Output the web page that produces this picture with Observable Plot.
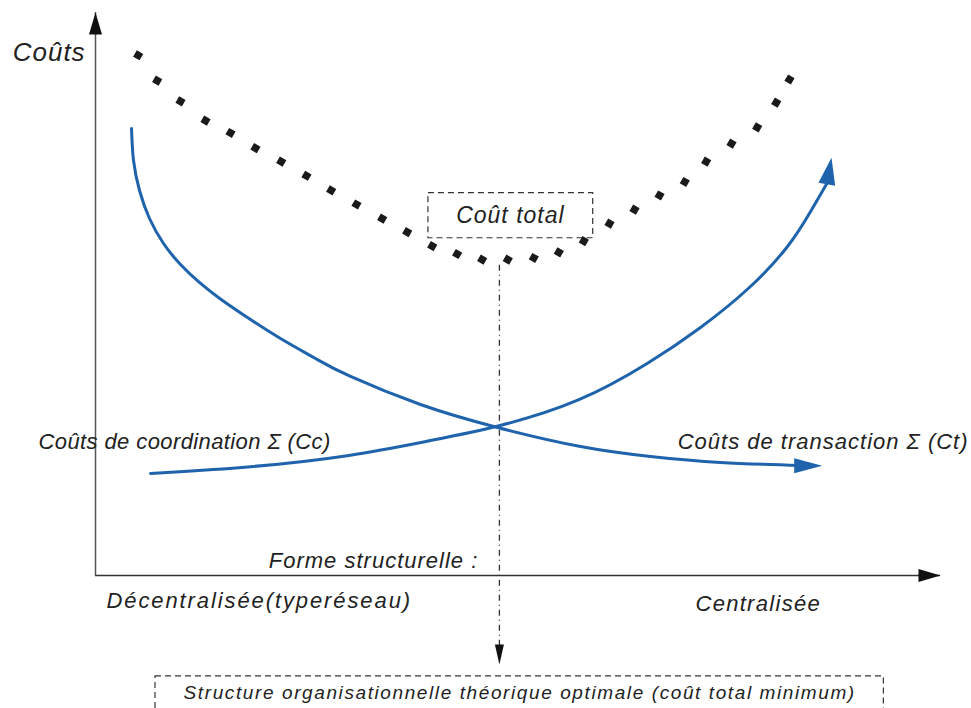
<!DOCTYPE html>
<html><head><meta charset="utf-8">
<script src="https://cdn.jsdelivr.net/npm/d3@7"></script>
<script src="https://cdn.jsdelivr.net/npm/@observablehq/plot@0.6"></script>
<style>
body{margin:0;background:#fff;}
#chart svg{display:block;}
</style>
</head><body><div id="chart"></div>
<script>
// Forme structurelle (0 = décentralisée, 100 = centralisée) ; coûts (0-100)
const totalX = [5.05,7.30,10.06,13.02,15.98,18.93,21.98,24.97,27.89,30.89,33.93,36.89,39.85,42.80,45.76,48.79,51.87,54.83,57.79,60.83,63.79,66.75,69.74,72.27,75.27,78.31,80.56,82.13];
const totalY = [92.4,87.9,84.2,80.8,78.6,75.9,73.5,71.0,68.4,65.9,63.4,61.0,58.5,57.1,56.1,56.1,56.4,57.4,59.4,62.5,65.0,67.5,69.9,73.5,76.7,79.6,84.0,88.1];

const coordX = [6.51,18.34,30.18,39.64,47.57,57.40,65.68,71.60,77.51,82.25,84.85,86.75];
const coordY = [18.12,19.18,21.14,23.98,26.29,30.73,37.83,43.87,50.98,58.61,65.19,70.16];
const coordTip = [87.1,74.2];

const transX = [4.26,4.50,5.21,6.39,8.05,10.06,12.43,15.03,18.34,21.89,26.04,30.18,38.46,47.57,57.40,65.68,73.96,83.43];
const transY = [79.40,73.71,68.38,63.41,58.97,55.24,51.87,48.85,45.47,42.10,38.54,35.35,30.37,26.29,22.91,21.14,20.07,19.54];
const transTip = [86.0,19.5];

const optimumX = 47.8;
const optimumY = [55.1,-13.0];
const optimumTip = -15.8;

const totalBox = [39.4,58.9,59.9,67.9];
const resultBox = [7.1,93.3,-17.9,-24.6];

const labelTexts = ["Coûts","Coût total","Coûts de coordination Σ (Cc)","Coûts de transaction Σ (Ct)","Forme structurelle :","Décentralisée(typeréseau)","Centralisée","Structure organisationnelle théorique optimale (coût total minimum)"];
const labelX = [-9.8,49.1,-6.75,68.9,45.3,1.3,71.0,50.2];
const labelY = [92.9,63.9,23.8,23.8,2.5,-4.6,-5.0,-20.8];

const arrowHead = (L, hw) => ({draw(ctx){ctx.moveTo(0,0);ctx.lineTo(hw,L);ctx.lineTo(-hw,L);ctx.closePath();}});

const lab = i => ({x: labelX[i], y: labelY[i], t: labelTexts[i]});
const blue = "#1f63ad";
const ink = "#222";

const txt = (i, size, anchor) => Plot.text([lab(i)], {x:"x", y:"y", text:"t", fontSize:size, fontStyle:"italic", fill:ink, textAnchor:anchor, fontFamily:"Liberation Sans, Arial, sans-serif"});

const chart = Plot.plot({
  width: 971, height: 708,
  margin: 0,
  x: {domain:[0,100], range:[95,940], axis:null},
  y: {domain:[0,100], range:[575,12], axis:null},
  style: {background:"#fff"},
  marks: [
    // axes
    Plot.ruleY([0], {x1:0, x2:100, stroke:"#333", strokeWidth:1.5}),
    Plot.ruleX([0], {y1:0, y2:100, stroke:"#555", strokeWidth:1.5}),
    Plot.dot([[100,0]], {x:d=>d[0], y:d=>d[1], symbol:arrowHead(22,6.5), rotate:90, fill:"#111", stroke:"none"}),
    Plot.dot([[0,100]], {x:d=>d[0], y:d=>d[1], symbol:arrowHead(22,6.5), rotate:0, fill:"#111", stroke:"none"}),
    // optimum line
    Plot.ruleX([optimumX], {y1:optimumY[0], y2:optimumY[1], stroke:"#333", strokeWidth:1.3, strokeDasharray:"6,4,1,4"}),
    Plot.dot([[optimumX, optimumTip]], {x:d=>d[0], y:d=>d[1], symbol:arrowHead(20,4.5), rotate:180, fill:"#111", stroke:"none"}),
    // boxes
    Plot.rect([totalBox], {x1:d=>d[0], x2:d=>d[1], y1:d=>d[2], y2:d=>d[3], fill:"none", stroke:"#333", strokeWidth:1.2, strokeDasharray:"6,4"}),
    Plot.rect([resultBox], {x1:d=>d[0], x2:d=>d[1], y1:d=>d[2], y2:d=>d[3], fill:"none", stroke:"#333", strokeWidth:1.2, strokeDasharray:"6,4"}),
    // curves
    Plot.line(coordX.map((x,i)=>[x,coordY[i]]), {x:d=>d[0], y:d=>d[1], curve:"basis", stroke:blue, strokeWidth:3}),
    Plot.dot([coordTip], {x:d=>d[0], y:d=>d[1], symbol:arrowHead(27,8.5), rotate:10, fill:blue, stroke:"none"}),
    Plot.line(transX.map((x,i)=>[x,transY[i]]), {x:d=>d[0], y:d=>d[1], curve:"natural", stroke:blue, strokeWidth:3}),
    Plot.dot([transTip], {x:d=>d[0], y:d=>d[1], symbol:arrowHead(28,7.5), rotate:90, fill:blue, stroke:"none"}),
    Plot.dot(totalX.map((x,i)=>[x,totalY[i]]), {x:d=>d[0], y:d=>d[1], symbol:"square", r:4.2, rotate:30, fill:"#1a1a1a", stroke:"none"}),
    // labels
    txt(0, 26, "start"),
    txt(1, 23, "middle"),
    txt(2, 22, "start"),
    txt(3, 22, "start"),
    txt(4, 22, "end"),
    txt(5, 22, "start"),
    txt(6, 22, "start"),
    txt(7, 19, "middle")
  ]
});
const spacing = [1.0, 1.0, 0.4, 1.0, 1.0, 1.9, 1.3, 1.6];
d3.select(chart).selectAll("text").each(function(){
  const i = labelTexts.indexOf(this.textContent);
  if (i >= 0) this.setAttribute("letter-spacing", spacing[i] + "px");
});
document.getElementById("chart").appendChild(chart);
</script>
</body></html>
